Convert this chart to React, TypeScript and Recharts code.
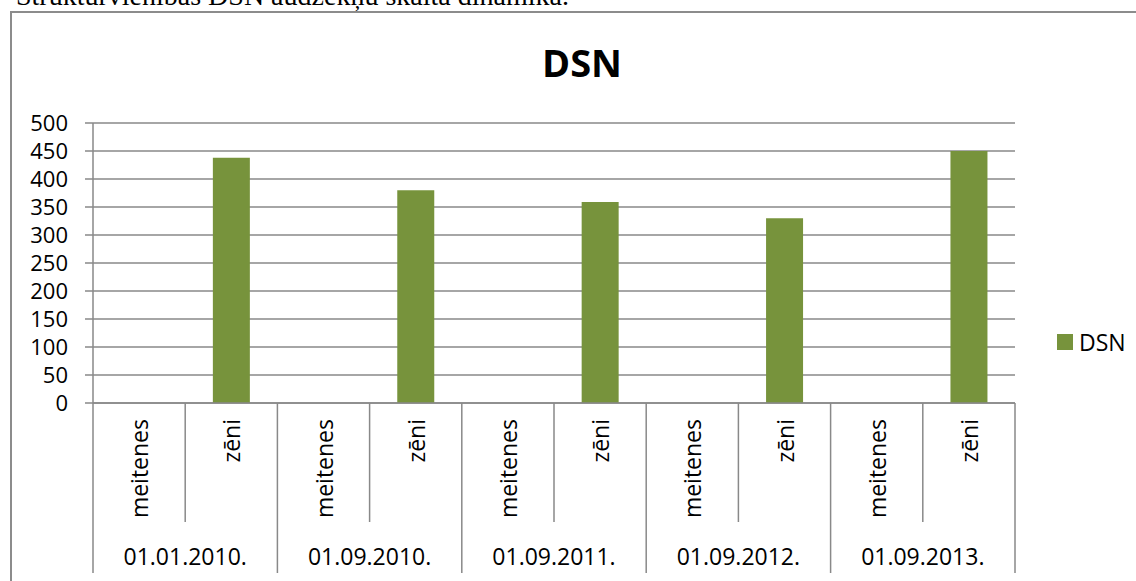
import React from 'react';
import { BarChart, Bar, XAxis, YAxis, CartesianGrid, Legend } from 'recharts';

const dates = ['01.01.2010.', '01.09.2010.', '01.09.2011.', '01.09.2012.', '01.09.2013.'];
const genders = ['meitenes', 'zēni'];
const girls: (number | null)[] = [null, null, null, null, null];
const boys = [438, 380, 359, 330, 450];
const yTicks = [0, 50, 100, 150, 200, 250, 300, 350, 400, 450, 500];

const data = dates.flatMap((date, i) => [
  { group: date, cat: genders[0], DSN: girls[i] },
  { group: date, cat: genders[1], DSN: boys[i] },
]);

const W = 1136;
const H = 581;
const MARGIN = { top: 123, right: 121, left: 33, bottom: 8 };
const Y_W = 60;
const X_H = 170;
const BAND = (W - MARGIN.left - MARGIN.right - Y_W) / data.length;

const FONT = '"Open Sans", sans-serif';
const GRID = '#898989';
const GREEN = '#77933C';

const CategoryTick = (props: any) => {
  const { x, y, payload, index } = props;
  const i = payload?.index ?? index;
  const row = data[i];
  const left = x - BAND / 2;
  const right = x + BAND / 2;
  const isGroupStart = i % 2 === 0;
  const isLast = i === data.length - 1;
  return (
    <g>
      <line x1={left} y1={y} x2={left} y2={isGroupStart ? y + 170 : y + 119} stroke={GRID} strokeWidth={1.5} />
      {isLast && <line x1={right} y1={y} x2={right} y2={y + 170} stroke={GRID} strokeWidth={1.5} />}
      <text
        x={x}
        y={y + 16}
        transform={`rotate(-90 ${x} ${y + 16})`}
        textAnchor="end"
        dominantBaseline="central"
        fontFamily={FONT}
        fontSize={23}
        fill="#000"
      >
        {payload.value}
      </text>
      {isGroupStart && (
        <text
          x={right}
          y={y + 153}
          textAnchor="middle"
          dominantBaseline="central"
          fontFamily={FONT}
          fontSize={23}
          fill="#000"
        >
          {row.group}
        </text>
      )}
    </g>
  );
};

const LegendContent = () => (
  <div style={{ display: 'flex', alignItems: 'center', fontFamily: FONT, fontSize: 23, color: '#000' }}>
    <span style={{ width: 16, height: 16, background: GREEN, display: 'inline-block', marginRight: 6 }} />
    <span>DSN</span>
  </div>
);

export default function App() {
  return (
    <div style={{ position: 'fixed', left: 0, top: 0, width: W, height: H, overflow: 'hidden', background: '#fff' }}>
      <svg style={{ position: 'absolute', left: 0, top: 0 }} width={W} height={H}>
        <text x={16} y={5} fontFamily='"Liberation Serif", serif' fontSize={28} fill="#000">
          Strukturvienības DSN audzēkņu skaita dinamika.
        </text>
        <rect x={11} y={12} width={W + 20} height={H + 20} fill="none" stroke="#8c8c8c" strokeWidth={2} />
        <text x={582} y={77} textAnchor="middle" fontFamily={FONT} fontWeight="bold" fontSize={38} fill="#000">
          DSN
        </text>
      </svg>
      <div style={{ position: 'absolute', left: 0, top: 0 }}>
        <BarChart width={W} height={H} data={data} margin={MARGIN} barCategoryGap="30%">
          <CartesianGrid vertical={false} stroke={GRID} strokeWidth={1.5} />
          <XAxis
            dataKey="cat"
            height={X_H}
            interval={0}
            tickLine={false}
            tickSize={0}
            tickMargin={0}
            axisLine={{ stroke: GRID, strokeWidth: 1.5 }}
            tick={<CategoryTick />}
          />
          <YAxis
            width={Y_W}
            domain={[0, 500]}
            ticks={yTicks}
            interval={0}
            tickSize={8}
            tickMargin={17}
            tick={{ fontFamily: FONT, fontSize: 22, fill: '#000' }}
            tickLine={{ stroke: GRID, strokeWidth: 1.5 }}
            axisLine={{ stroke: GRID, strokeWidth: 1.5 }}
          />
          <Legend
            layout="horizontal"
            verticalAlign="middle"
            align="center"
            content={<LegendContent />}
            wrapperStyle={{ position: 'absolute', left: 1057, top: 326, width: 'auto' }}
          />
          <Bar dataKey="DSN" fill={GREEN} isAnimationActive={false} />
        </BarChart>
      </div>
    </div>
  );
}
